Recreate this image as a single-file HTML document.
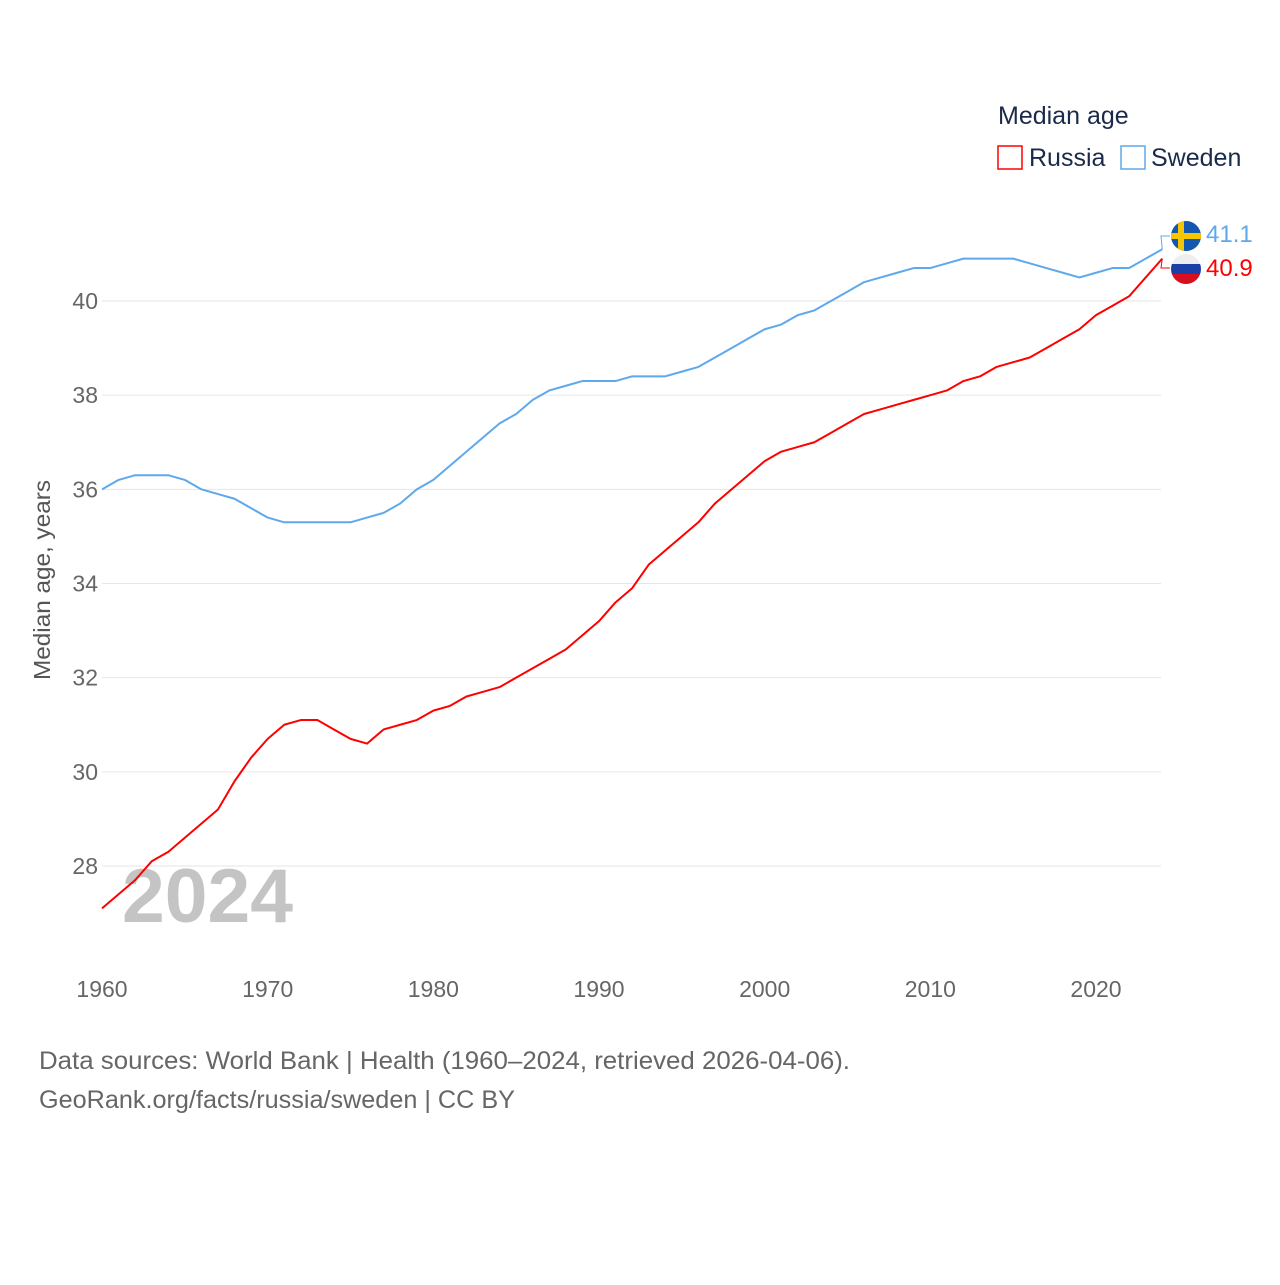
<!DOCTYPE html>
<html><head><meta charset="utf-8">
<style>
body{margin:0;background:#fff;}
svg text{font-family:"Liberation Sans",sans-serif;}
</style></head>
<body>
<svg id="chart" width="1280" height="1280" xmlns="http://www.w3.org/2000/svg">
<rect width="1280" height="1280" fill="#fff"/>
<g id="grid"></g>
<g id="xticks"></g>
<text x="122" y="922" font-size="76" font-weight="bold" fill="#c4c4c4" textLength="171" lengthAdjust="spacingAndGlyphs">2024</text>
<text transform="translate(50,580) rotate(-90)" text-anchor="middle" font-size="23" fill="#555" textLength="200" lengthAdjust="spacingAndGlyphs">Median age, years</text>
<g id="lines"></g>
<text x="998" y="124" font-size="25" fill="#1a2a4a">Median age</text>
<g>
<rect x="998" y="146" width="24" height="23" fill="none" stroke="#f00" stroke-width="1.5"/>
<text x="1029" y="166" font-size="25" fill="#1a2a4a">Russia</text></g>
<g>
<rect x="1121" y="146" width="24" height="23" fill="none" stroke="#5ea8ec" stroke-width="1.5"/>
<text x="1151" y="166" font-size="25" fill="#1a2a4a">Sweden</text></g>
<g>
<clipPath id="cs"><circle cx="1186" cy="236" r="15"/></clipPath>
<g clip-path="url(#cs)"><rect x="1170" y="220" width="32" height="32" fill="#1457b0"/><rect x="1170" y="233" width="32" height="6" fill="#f6c700"/><rect x="1178" y="220" width="6" height="32" fill="#f6c700"/></g></g>
<g>
<clipPath id="cr"><circle cx="1186" cy="269" r="15"/></clipPath>
<g clip-path="url(#cr)"><rect x="1170" y="253" width="32" height="11" fill="#eee"/><rect x="1170" y="264" width="32" height="10" fill="#1c3fa8"/><rect x="1170" y="274" width="32" height="12" fill="#d80f1e"/></g></g>
<text x="1206" y="242" font-size="24" fill="#5ea8ec">41.1</text>
<text x="1206" y="276" font-size="24" fill="#f00">40.9</text>
<text x="39" y="1069" font-size="25" fill="#666" textLength="811" lengthAdjust="spacingAndGlyphs">Data sources: World Bank | Health (1960–2024, retrieved 2026-04-06).</text>
<text x="39" y="1108" font-size="25" fill="#666" textLength="476" lengthAdjust="spacingAndGlyphs">GeoRank.org/facts/russia/sweden | CC BY</text>
</svg>
<script>
const years=[];for(let y=1960;y<=2024;y++)years.push(y);
const sweden=[36.0,36.2,36.3,36.3,36.3,36.2,36.0,35.9,35.8,35.6,35.4,35.3,35.3,35.3,35.3,35.3,35.4,35.5,35.7,36.0,36.2,36.5,36.8,37.1,37.4,37.6,37.9,38.1,38.2,38.3,38.3,38.3,38.4,38.4,38.4,38.5,38.6,38.8,39.0,39.2,39.4,39.5,39.7,39.8,40.0,40.2,40.4,40.5,40.6,40.7,40.7,40.8,40.9,40.9,40.9,40.9,40.8,40.7,40.6,40.5,40.6,40.7,40.7,40.9,41.1];
const russia=[27.1,27.4,27.7,28.1,28.3,28.6,28.9,29.2,29.8,30.3,30.7,31.0,31.1,31.1,30.9,30.7,30.6,30.9,31.0,31.1,31.3,31.4,31.6,31.7,31.8,32.0,32.2,32.4,32.6,32.9,33.2,33.6,33.9,34.4,34.7,35.0,35.3,35.7,36.0,36.3,36.6,36.8,36.9,37.0,37.2,37.4,37.6,37.7,37.8,37.9,38.0,38.1,38.3,38.4,38.6,38.7,38.8,39.0,39.2,39.4,39.7,39.9,40.1,40.5,40.9];
const yTicks=[28,30,32,34,36,38,40];
const xTicks=[1960,1970,1980,1990,2000,2010,2020];
const NS="http://www.w3.org/2000/svg";
const X=y=>102+(y-1960)*(994/60);
const Y=v=>301-(v-40)*(565/12);
function mk(t,a){const e=document.createElementNS(NS,t);for(const k in a)e.setAttribute(k,a[k]);return e;}
const grid=document.getElementById('grid');
yTicks.forEach(v=>{
 const l=mk('line',{x1:102,x2:1161,y1:Y(v),y2:Y(v),stroke:'#e6e6e6','stroke-width':1});
 
 
 grid.appendChild(l);
 const t=mk('text',{x:98,y:Y(v)+8,'text-anchor':'end','font-size':23,fill:'#666'});
 t.textContent=v;
 
 
 grid.appendChild(t);
});
const xt=document.getElementById('xticks');
xTicks.forEach(v=>{
 const t=mk('text',{x:X(v),y:997,'text-anchor':'middle','font-size':23,fill:'#666'});
 t.textContent=v;
 
 
 xt.appendChild(t);
});
const lines=document.getElementById('lines');
function draw(vals,col,name){
 const p=mk('polyline',{points:vals.map((v,i)=>X(years[i])+','+Y(v)).join(' '),fill:'none',stroke:col,'stroke-width':2,'stroke-linejoin':'round'});
 
 
 lines.appendChild(p);
}
draw(sweden,'#5ea8ec','sweden-line');
draw(russia,'#f00','russia-line');
const ls=mk('polyline',{points:`${X(2024)},${Y(sweden[64])} 1161,236 1170,236`,fill:'none',stroke:'#5ea8ec','stroke-width':1});


lines.appendChild(ls);
const lr=mk('polyline',{points:`${X(2024)},${Y(russia[64])} 1161,268 1170,268`,fill:'none',stroke:'#f00','stroke-width':1});


lines.appendChild(lr);
</script>
</body></html>
